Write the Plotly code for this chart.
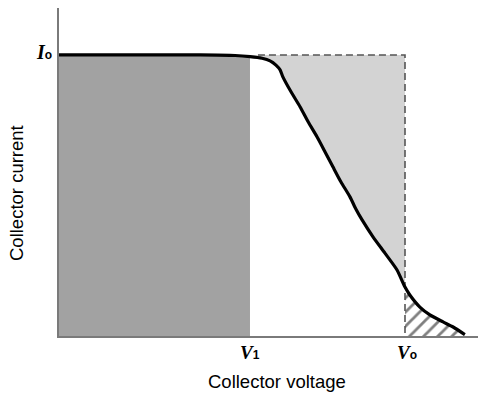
import plotly.graph_objects as go

# Data (units: V0 = 100 on voltage axis, I0 = 100 on current axis)
V1 = 55.2
V0 = 100.0
I0 = 100.0
curve_v = [0, 40.8, 50.9, 55.2, 58.7, 61.0, 62.7, 63.9, 64.7, 67.1, 69.7, 72.0, 74.6,
           76.9, 79.2, 81.5, 84.1, 85.8, 87.6, 90.8, 94.2, 97.7, 100.0, 101.4, 104.3,
           107.2, 111.0, 113.9, 117.3]
curve_i = [100, 100, 99.8, 99.4, 98.8, 97.9, 96.4, 94.7, 92.2, 86.8, 81.5, 76.2, 70.8,
           65.5, 60.1, 54.8, 49.5, 45.2, 41.3, 35.2, 29.5, 23.5, 17.4, 14.6, 10.3,
           7.5, 5.0, 3.2, 0.5]
SUB = "<span style='font-family:Liberation Sans;font-size:12px'><b>%s</b></span>"
x_ticks = [V1, V0]
x_ticklabels = ["<b><i>V</i></b>" + SUB % "1", "<b><i>V</i></b>" + SUB % "o"]
y_ticks = [I0]
y_ticklabels = ["<b><i>I</i></b>" + SUB % "o"]
x_title = "Collector voltage"
y_title = "Collector current"

fig = go.Figure()

# dark gray rectangle under I0 up to V1
fig.add_trace(go.Scatter(x=[0, V1, V1, 0, 0], y=[0, 0, I0, I0, 0], fill="toself",
                         fillcolor="#a2a2a2", mode="lines", line=dict(width=0),
                         hoverinfo="skip", showlegend=False))

# light gray region between curve and dashed rectangle (V1..V0)
seg = [(v, i) for v, i in zip(curve_v, curve_i) if V1 <= v <= V0]
lx = [p[0] for p in seg] + [V0, V1, V1]
ly = [p[1] for p in seg] + [I0, I0, seg[0][1]]
fig.add_trace(go.Scatter(x=lx, y=ly, fill="toself", fillcolor="#d3d3d3", mode="lines",
                         line=dict(width=0), hoverinfo="skip", showlegend=False))

# hatched region beyond V0
seg2 = [(v, i) for v, i in zip(curve_v, curve_i) if v >= V0]
hx = [V0] + [p[0] for p in seg2] + [seg2[-1][0], V0]
hy = [0] + [p[1] for p in seg2] + [0, 0]
fig.add_trace(go.Scatter(x=hx, y=hy, fill="toself", fillcolor="white", mode="lines",
                         line=dict(width=0),
                         fillpattern=dict(shape="/", fgcolor="black", bgcolor="white",
                                          size=10, solidity=0.28),
                         hoverinfo="skip", showlegend=False))

# dashed rectangle edges
fig.add_trace(go.Scatter(x=[57.5, V0, V0], y=[I0, I0, 0], mode="lines",
                         line=dict(color="#555555", width=1.6, dash="7px,4px"),
                         hoverinfo="skip", showlegend=False))

# characteristic curve
fig.add_trace(go.Scatter(x=curve_v, y=curve_i, mode="lines",
                         line=dict(color="black", width=3.2, shape="spline", smoothing=0.6),
                         hoverinfo="skip", showlegend=False))

plot_w = 485 - 59 - 7
plot_h = 398 - 8 - 62

label_font = dict(family="Liberation Serif", size=19, color="black")
annotations = []
for xv, txt, dx in zip(x_ticks, x_ticklabels, [0, 2]):
    annotations.append(dict(text=txt, x=xv, y=0, xref="x", yref="y", showarrow=False,
                            xanchor="center", yanchor="middle", xshift=dx, yshift=-16,
                            font=label_font))
for yv, txt in zip(y_ticks, y_ticklabels):
    annotations.append(dict(text=txt, x=0, y=yv, xref="x", yref="y", showarrow=False,
                            xanchor="right", yanchor="middle", xshift=-5, yshift=3,
                            font=dict(family="Liberation Serif", size=20, color="black")))
annotations += [
    dict(text=x_title, x=(277 - 59) / plot_w, xref="paper",
         y=(398 - 62 - 382) / plot_h, yref="paper", showarrow=False,
         xanchor="center", yanchor="middle",
         font=dict(family="Liberation Sans", size=18.5, color="black")),
    dict(text=y_title, textangle=-90, x=(17 - 59) / plot_w, xref="paper",
         y=(398 - 62 - 193) / plot_h, yref="paper", showarrow=False,
         xanchor="center", yanchor="middle",
         font=dict(family="Liberation Sans", size=18.5, color="black")),
]

fig.update_layout(
    width=485, height=398,
    margin=dict(l=59, r=7, t=8, b=62),
    plot_bgcolor="white", paper_bgcolor="white",
    xaxis=dict(range=[0, 121.1], showgrid=False, zeroline=False, showline=True,
               linecolor="#7a7a7a", linewidth=2, showticklabels=False, ticks=""),
    yaxis=dict(range=[0, 116.7], showgrid=False, zeroline=False, showline=True,
               linecolor="#7a7a7a", linewidth=2, showticklabels=False, ticks=""),
    annotations=annotations,
)

fig.write_html("out.html", config={"displayModeBar": False},
               post_script="document.body.style.margin='0';")
